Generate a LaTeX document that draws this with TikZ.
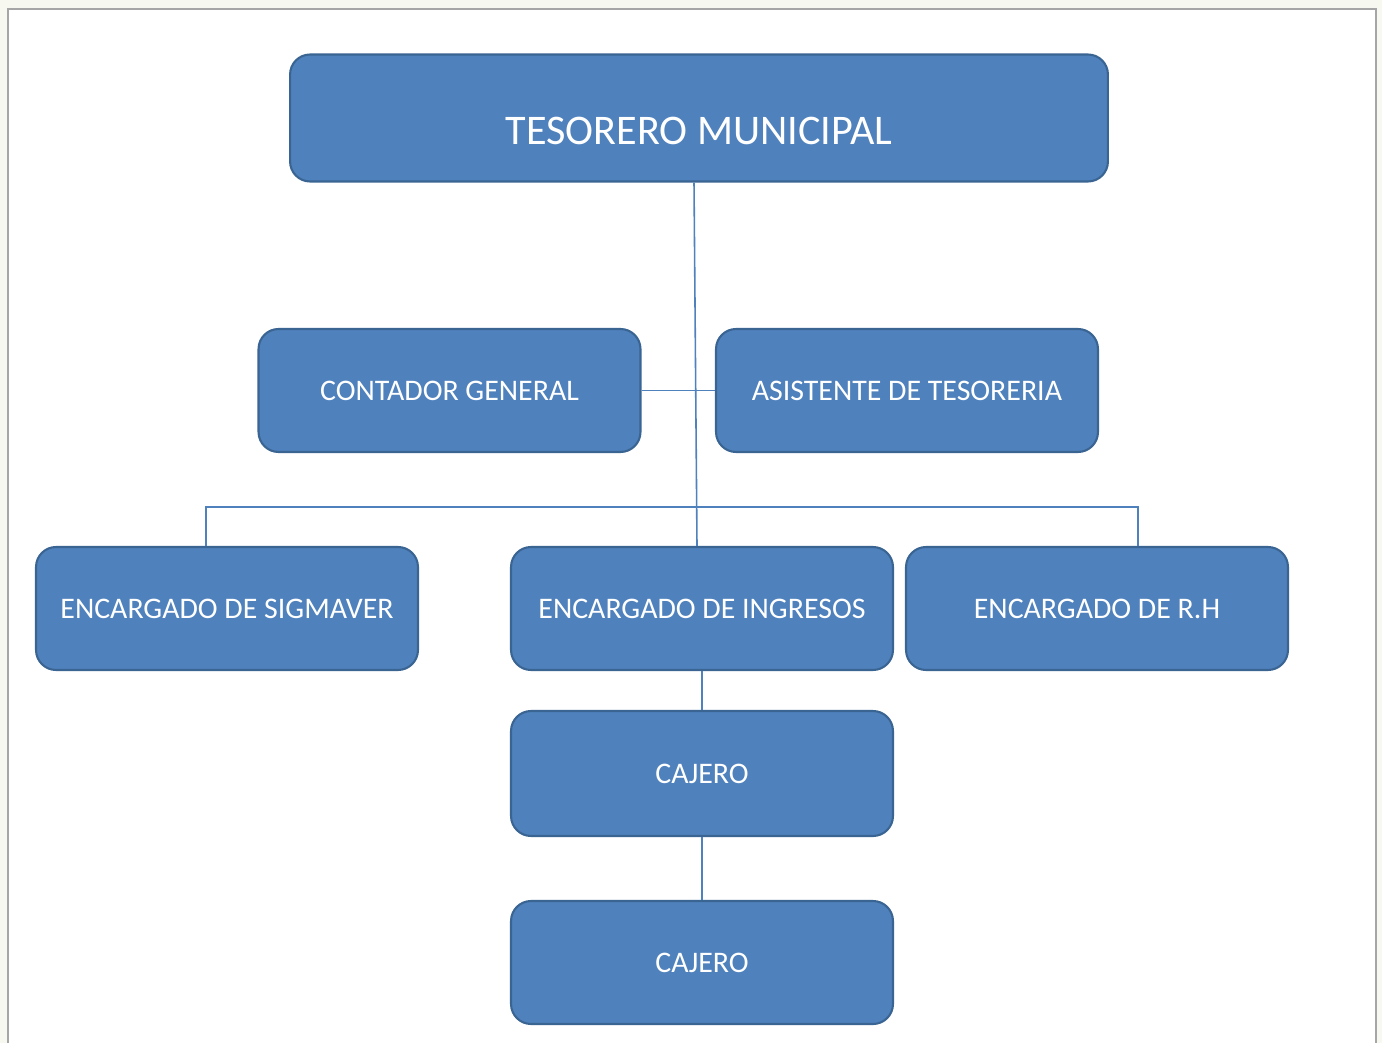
\documentclass[tikz,border=0pt]{standalone}
\usepackage{fontspec}
\setmainfont{Carlito}
\definecolor{boxblue}{HTML}{4F81BD}
\definecolor{boxedge}{HTML}{3A6593}
\definecolor{outside}{HTML}{F7F8F0}
\begin{document}
\begin{tikzpicture}[x=0.02cm, y=-0.02cm,
  cargo/.style={draw=boxedge, line width=1.2pt, fill=boxblue, rounded corners=0.4cm,
    text=white, font=\fontsize{17}{19}\selectfont, minimum width=7.64cm, minimum height=2.46cm, inner sep=0pt},
  conn/.style={draw=boxblue, line width=0.9pt}]
\useasboundingbox (0,0) rectangle (1382,1043);
\fill [outside] (0,0) rectangle (1382,1043);
\fill [white] (8,9) rectangle (1376,1043);
\draw [gray!70, line width=1.3pt] (8,1043)--(8,9)--(1376,9)--(1376,1043);

\node [cargo, minimum width=16.36cm, minimum height=2.54cm, font=\fontsize{24}{27}\selectfont, text height=1.06cm, text depth=0cm] (tes) at (699,118) {TESORERO MUNICIPAL};
\node [cargo] (cont) at (449.5,390.5) {CONTADOR GENERAL};
\node [cargo] (asis) at (907,390.5) {ASISTENTE DE TESORERIA};
\node [cargo] (sig) at (227,608.5) {ENCARGADO DE SIGMAVER};
\node [cargo] (ing) at (702,608.5) {ENCARGADO DE INGRESOS};
\node [cargo] (rh) at (1097,608.5) {ENCARGADO DE R.H};
\node [cargo, minimum height=2.5cm] (caj1) at (702,773.5) {CAJERO};
\node [cargo] (caj2) at (702,962.5) {CAJERO};

\coordinate (busL) at (206,507);
\coordinate (busR) at (1138,507);
\draw [conn] ([xshift=-0.1cm]tes.south) -- ([xshift=-0.1cm]ing.north);
\draw [conn] (cont.east) -- (asis.west);
\draw [conn] (busL |- sig.north) -- (busL) -- (busR) -- (busR |- rh.north);
\draw [conn] (ing.south) -- (caj1.north);
\draw [conn] (caj1.south) -- (caj2.north);
\end{tikzpicture}
\end{document}
